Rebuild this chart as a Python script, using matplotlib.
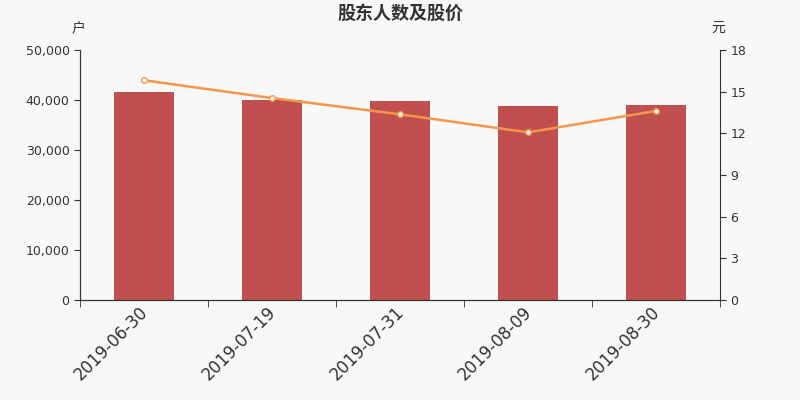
import matplotlib
matplotlib.use('Agg')
import matplotlib.pyplot as plt
import matplotlib.transforms as mtransforms
import numpy as np

plt.rcParams['font.family'] = ['DejaVu Sans', 'Noto Sans CJK SC']

dates = ['2019-06-30', '2019-07-19', '2019-07-31', '2019-08-09', '2019-08-30']
holders = [41600, 40000, 39900, 38870, 39000]
prices = [15.82, 14.54, 13.37, 12.07, 13.61]

bg = '#f8f8f8'
bar_color = '#c0504d'
line_color = '#f7964a'
text_color = '#333333'

fig = plt.figure(figsize=(8, 4), dpi=100, facecolor=bg)
ax = fig.add_axes([0.1, 0.25, 0.8, 0.625])
ax.set_facecolor(bg)

x = np.arange(len(dates))
ax.bar(x, holders, width=0.47, color=bar_color, zorder=2)
ax.set_xlim(-0.5, len(dates) - 0.5)
ax.set_ylim(0, 50000)
ax.set_yticks(np.arange(0, 50001, 10000))
ax.set_yticklabels([f'{v:,}' for v in range(0, 50001, 10000)])

ax.set_xticks(x)
ax.set_xticklabels(dates, rotation=45, ha='right', rotation_mode='anchor',
                   fontsize=12, color=text_color)
ax.tick_params(axis='x', which='major', length=0, pad=2)
# nudge the rotated labels a little to the left
shift = mtransforms.ScaledTranslation(-5 / 100, 0, fig.dpi_scale_trans)
for lbl in ax.get_xticklabels():
    lbl.set_transform(lbl.get_transform() + shift)
ax.set_xticks(np.arange(-0.5, len(dates)), minor=True)
ax.tick_params(axis='x', which='minor', length=5, color=text_color)
ax.tick_params(axis='y', length=4, labelsize=9, colors=text_color)

ax2 = ax.twinx()
ax2.plot(x, prices, color=line_color, linewidth=1.8, marker='o', markersize=4,
         markerfacecolor='white', markeredgecolor=line_color, markeredgewidth=1,
         zorder=3)
ax2.set_ylim(0, 18)
ax2.set_yticks(np.arange(0, 19, 3))
ax2.tick_params(axis='y', length=4, labelsize=9, colors=text_color)

for a in (ax, ax2):
    a.spines['top'].set_visible(False)
    for s in ('left', 'right', 'bottom'):
        a.spines[s].set_color(text_color)
ax.spines['right'].set_visible(False)

fig.text(0.5, 0.967, '股东人数及股价', ha='center', va='center',
         fontsize=13, fontweight='bold', color=text_color,
         family=['Noto Sans CJK SC', 'DejaVu Sans'])
fig.text(0.098, 0.93, '户', ha='center', va='center', fontsize=10, color=text_color,
         family=['Noto Sans CJK SC', 'DejaVu Sans'])
fig.text(0.898, 0.93, '元', ha='center', va='center', fontsize=10, color=text_color,
         family=['Noto Sans CJK SC', 'DejaVu Sans'])

fig.savefig('out.png', dpi=100, facecolor=bg)
